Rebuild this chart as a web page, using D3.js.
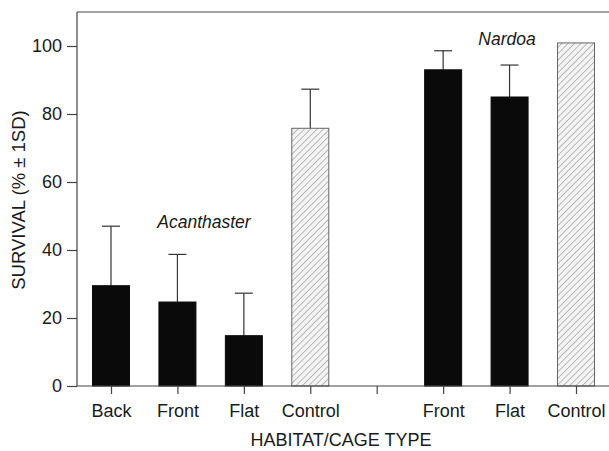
<!DOCTYPE html>
<html>
<head>
<meta charset="utf-8">
<script src="https://cdn.jsdelivr.net/npm/d3@7.9.0/dist/d3.min.js"></script>
<style>
  body { margin: 0; background: #fff; }
  svg text { font-family: "Liberation Sans", Arial, sans-serif; fill: #1a1a1a; }
</style>
</head>
<body>
<svg id="chart" width="609" height="451"></svg>
<script>
// slot labels (empty slot separates the two species)
const labels = ["Back", "Front", "Flat", "Control", "", "Front", "Flat", "Control"];
const means  = [29.5, 24.7, 14.8, 75.8, null, 93.0, 85.0, 100.9];
const sds    = [17.5, 14.0, 12.5, 11.5, null, 5.6, 9.4, 0];
const kinds  = ["cage", "cage", "cage", "control", null, "cage", "cage", "control"];
const yTicks = [0, 20, 40, 60, 80, 100];

const svg = d3.select("#chart");
const margin = { top: 12, right: 0, bottom: 65, left: 77 };
const W = +svg.attr("width"), H = +svg.attr("height");
const plotBottom = H - margin.bottom;

const data = labels.map((l, i) => ({ i, label: l, mean: means[i], sd: sds[i], kind: kinds[i] }));

const x = d3.scalePoint().domain(d3.range(labels.length)).range([111, 576]);
const y = d3.scaleLinear().domain([0, 110]).range([plotBottom, margin.top]);
const barW = 37;

// hatch pattern for controls
const defs = svg.append("defs");
const pat = defs.append("pattern")
  .attr("id", "hatch")
  .attr("patternUnits", "userSpaceOnUse")
  .attr("width", 4.5).attr("height", 4.5)
  .attr("patternTransform", "rotate(45)");
pat.append("rect").attr("width", 4.5).attr("height", 4.5).attr("fill", "#f4f4f4");
pat.append("line").attr("x1", 0).attr("y1", 0).attr("x2", 0).attr("y2", 4.5)
  .attr("stroke", "#8a8a8a").attr("stroke-width", 1.1);

// frame: top line
svg.append("line")
  .attr("x1", margin.left).attr("x2", W)
  .attr("y1", margin.top).attr("y2", margin.top)
  .attr("stroke", "#444").attr("stroke-width", 1.2);

const bars = data.filter(d => d.mean != null);

// error bars (upper only)
const err = svg.append("g").attr("stroke", "#333").attr("stroke-width", 1.2);
err.selectAll("line.v").data(bars.filter(d => d.sd > 0)).join("line")
  .attr("class", "v")
  .attr("x1", d => x(d.i)).attr("x2", d => x(d.i))
  .attr("y1", d => y(d.mean)).attr("y2", d => y(d.mean + d.sd));
err.selectAll("line.c").data(bars.filter(d => d.sd > 0)).join("line")
  .attr("class", "c")
  .attr("x1", d => x(d.i) - 9).attr("x2", d => x(d.i) + 9)
  .attr("y1", d => y(d.mean + d.sd)).attr("y2", d => y(d.mean + d.sd));

// bars
svg.append("g").selectAll("rect").data(bars).join("rect")
  .attr("x", d => x(d.i) - barW / 2)
  .attr("width", barW)
  .attr("y", d => y(d.mean))
  .attr("height", d => y(0) - y(d.mean))
  .attr("fill", d => d.kind === "control" ? "url(#hatch)" : "#0a0a0a")
  .attr("stroke", d => d.kind === "control" ? "#666" : "#0a0a0a")
  .attr("stroke-width", 1);

// y axis
const yAxis = svg.append("g")
  .attr("transform", `translate(${margin.left},0)`)
  .call(d3.axisLeft(y).tickValues(yTicks).tickSize(10).tickPadding(5).tickSizeOuter(0));
yAxis.select(".domain").attr("d", `M0,${margin.top}V${plotBottom}`);
yAxis.selectAll("path, line").attr("stroke", "#444").attr("stroke-width", 1.2);
yAxis.selectAll("text").attr("font-size", 18).attr("fill", "#1a1a1a");

// x axis
const xAxis = svg.append("g")
  .attr("transform", `translate(0,${plotBottom})`)
  .call(d3.axisBottom(x).tickSize(8).tickPadding(10).tickFormat(i => labels[i]));
xAxis.select(".domain").attr("d", `M${margin.left},0H${W}`);
xAxis.selectAll("path, line").attr("stroke", "#444").attr("stroke-width", 1.2);
xAxis.selectAll("text").attr("font-size", 18).attr("fill", "#1a1a1a");

// axis titles
svg.append("text")
  .attr("x", 341).attr("y", 446)
  .attr("text-anchor", "middle").attr("font-size", 18)
  .text("HABITAT/CAGE TYPE");
svg.append("text")
  .attr("transform", "translate(25,200) rotate(-90)")
  .attr("text-anchor", "middle").attr("font-size", 18.5)
  .text("SURVIVAL (% ± 1SD)");

// species labels
svg.append("text")
  .attr("x", 204).attr("y", 228)
  .attr("text-anchor", "middle").attr("font-size", 17.5).attr("font-style", "italic")
  .text("Acanthaster");
svg.append("text")
  .attr("x", 507).attr("y", 45)
  .attr("text-anchor", "middle").attr("font-size", 17.5).attr("font-style", "italic")
  .text("Nardoa");
</script>
</body>
</html>
